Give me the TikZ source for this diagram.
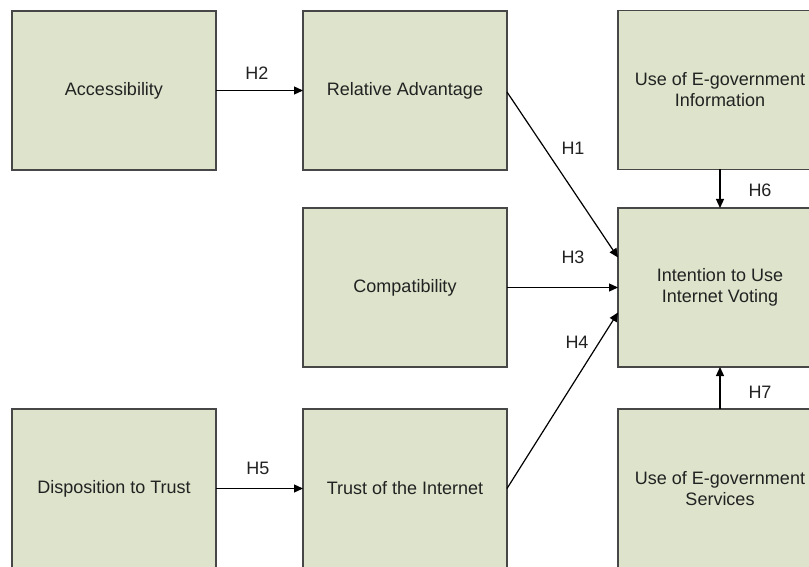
\documentclass[tikz,border=0pt]{standalone}
\usepackage{fontspec}
\setmainfont{Liberation Sans}
\usetikzlibrary{arrows.meta}
\definecolor{boxfill}{HTML}{DDE4CB}
\definecolor{boxline}{HTML}{474747}
\definecolor{txt}{HTML}{222222}
\tikzset{
  box/.style={draw=boxline, line width=1.6pt, fill=boxfill, minimum width=204pt, minimum height=159pt,
    inner sep=0pt, outer sep=0pt, align=center, text=txt, font=\fontsize{18}{21}\selectfont},
  conn/.style={draw=black, line width=1.2pt, -{Triangle[length=9pt,width=8pt]}},
  hlabel/.style={text=txt, font=\fontsize{18}{21}\selectfont, inner sep=0pt}
}
\begin{document}
\begin{tikzpicture}[x=1pt,y=-1pt]
\useasboundingbox[fill=white] (0,0) rectangle (809,567);
\clip (0,0) rectangle (809,567);
\node[box] (acc) at (114,90.5) {Accessibility};
\node[box] (rel) at (405,90.5) {Relative Advantage};
\node[box] (info) at (720,90) {Use of E-government\\Information};
\node[box] (comp) at (405,287.5) {Compatibility};
\node[box] (int) at (720,287.5) {Intention to Use\\Internet Voting};
\node[box] (disp) at (114,488.5) {Disposition to Trust};
\node[box] (trust) at (405,488.5) {Trust of the Internet};
\node[box] (serv) at (720,488.5) {Use of E-government\\Services};

\draw[conn] (acc.east) -- (rel.west);
\draw[conn] ([yshift=-1.5pt]rel.east) -- ([yshift=30pt]int.west);
\draw[conn] (comp.east) -- (int.west);
\draw[conn] (trust.east) -- ([yshift=-25pt]int.west);
\draw[conn] (info.south) -- (int.north);
\draw[conn] (serv.north) -- (int.south);
\draw[conn] (disp.east) -- (trust.west);

\node[hlabel] (h2) at (257,73) {H2};
\node[hlabel] (h1) at (573,148) {H1};
\node[hlabel] (h3) at (573,257) {H3};
\node[hlabel] (h4) at (577,342) {H4};
\node[hlabel] (h6) at (760,190) {H6};
\node[hlabel] (h7) at (760,392) {H7};
\node[hlabel] (h5) at (258,468) {H5};
\end{tikzpicture}
\end{document}
